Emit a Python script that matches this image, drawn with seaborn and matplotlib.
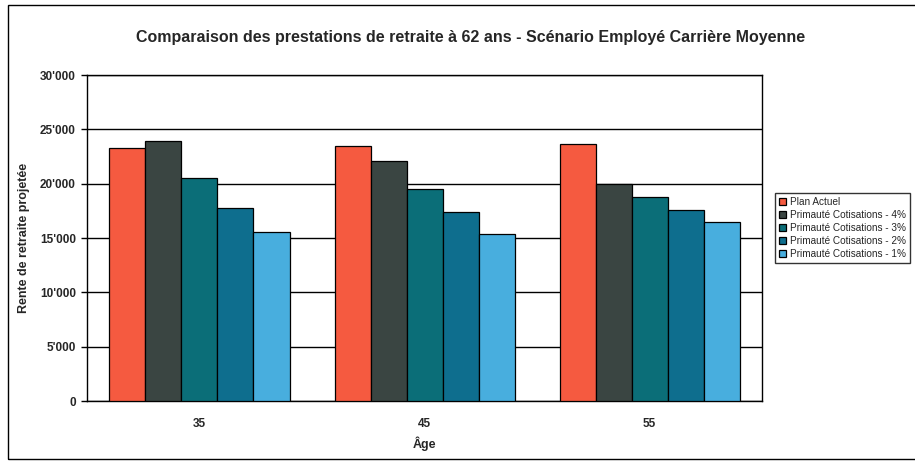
import pandas as pd
import numpy as np
import matplotlib.pyplot as plt
import matplotlib.patches as mpatches
import seaborn as sns

ages = ["35", "45", "55"]
scenarios = [
    "Plan Actuel",
    "Primauté Cotisations - 4%",
    "Primauté Cotisations - 3%",
    "Primauté Cotisations - 2%",
    "Primauté Cotisations - 1%",
]
plan_actuel = [23300, 23500, 23700]
cotis_4 = [23900, 22100, 20000]
cotis_3 = [20500, 19500, 18800]
cotis_2 = [17800, 17400, 17600]
cotis_1 = [15600, 15400, 16500]
couleurs = ["#F55A40", "#3A4542", "#0B6E78", "#0E6E8E", "#48AEDE"]

series = [plan_actuel, cotis_4, cotis_3, cotis_2, cotis_1]
rows = []
for nom, vals in zip(scenarios, series):
    for age, v in zip(ages, vals):
        rows.append({"Age": age, "Scenario": nom, "Rente": v})
df = pd.DataFrame(rows)

sns.set_style("white")
plt.rcParams["font.family"] = ["Liberation Sans", "DejaVu Sans"]

fig = plt.figure(figsize=(9.15, 4.61), dpi=100)
fig.patch.set_facecolor("white")
ax = fig.add_axes([0.095, 0.13, 0.738, 0.707])

sns.barplot(data=df, x="Age", y="Rente", hue="Scenario", hue_order=scenarios,
            palette=couleurs, edgecolor="black", linewidth=0.9, width=0.8,
            saturation=1, ax=ax, zorder=3)

ax.set_ylim(0, 30000)
ax.set_yticks(np.arange(0, 30001, 5000))
ax.set_yticklabels([f"{int(v):,}".replace(",", "'") for v in np.arange(0, 30001, 5000)],
                   fontsize=8.5, fontweight="bold")
ax.set_xticks([0, 1, 2])
ax.set_xticklabels(ages, fontsize=8.5, fontweight="bold")
ax.set_xticks([0.5, 1.5], minor=True)
ax.tick_params(axis="x", which="major", length=0, pad=12)
ax.tick_params(axis="x", which="minor", length=4, width=1, color="black", direction="out")
ax.tick_params(axis="y", length=4, width=1, color="black", direction="out", pad=4, left=True)
ax.yaxis.grid(True, color="black", linewidth=1)
ax.set_axisbelow(True)
for s in ax.spines.values():
    s.set_color("black")
    s.set_linewidth(1)

ax.set_xlabel("Âge", fontsize=9, fontweight="bold", labelpad=5)
ax.set_ylabel("Rente de retraite projetée", fontsize=9, fontweight="bold", labelpad=7)
ax.set_title("Comparaison des prestations de retraite à 62 ans - Scénario Employé Carrière Moyenne",
             fontsize=11.5, fontweight="bold", pad=24, x=0.568)

leg = ax.legend(loc="upper left", bbox_to_anchor=(1.012, 0.655), fontsize=7.2,
                frameon=True, fancybox=False, edgecolor="black", handlelength=0.7,
                handleheight=0.7, handletextpad=0.4, borderpad=0.4, labelspacing=0.3)
leg.get_frame().set_linewidth(1)

# cadre du graphique
fig.patches.append(mpatches.Rectangle((0.009, 0.005), 1.2, 0.985, transform=fig.transFigure,
                                      fill=False, edgecolor="black", linewidth=1))

fig.savefig("out.png", dpi=100)
